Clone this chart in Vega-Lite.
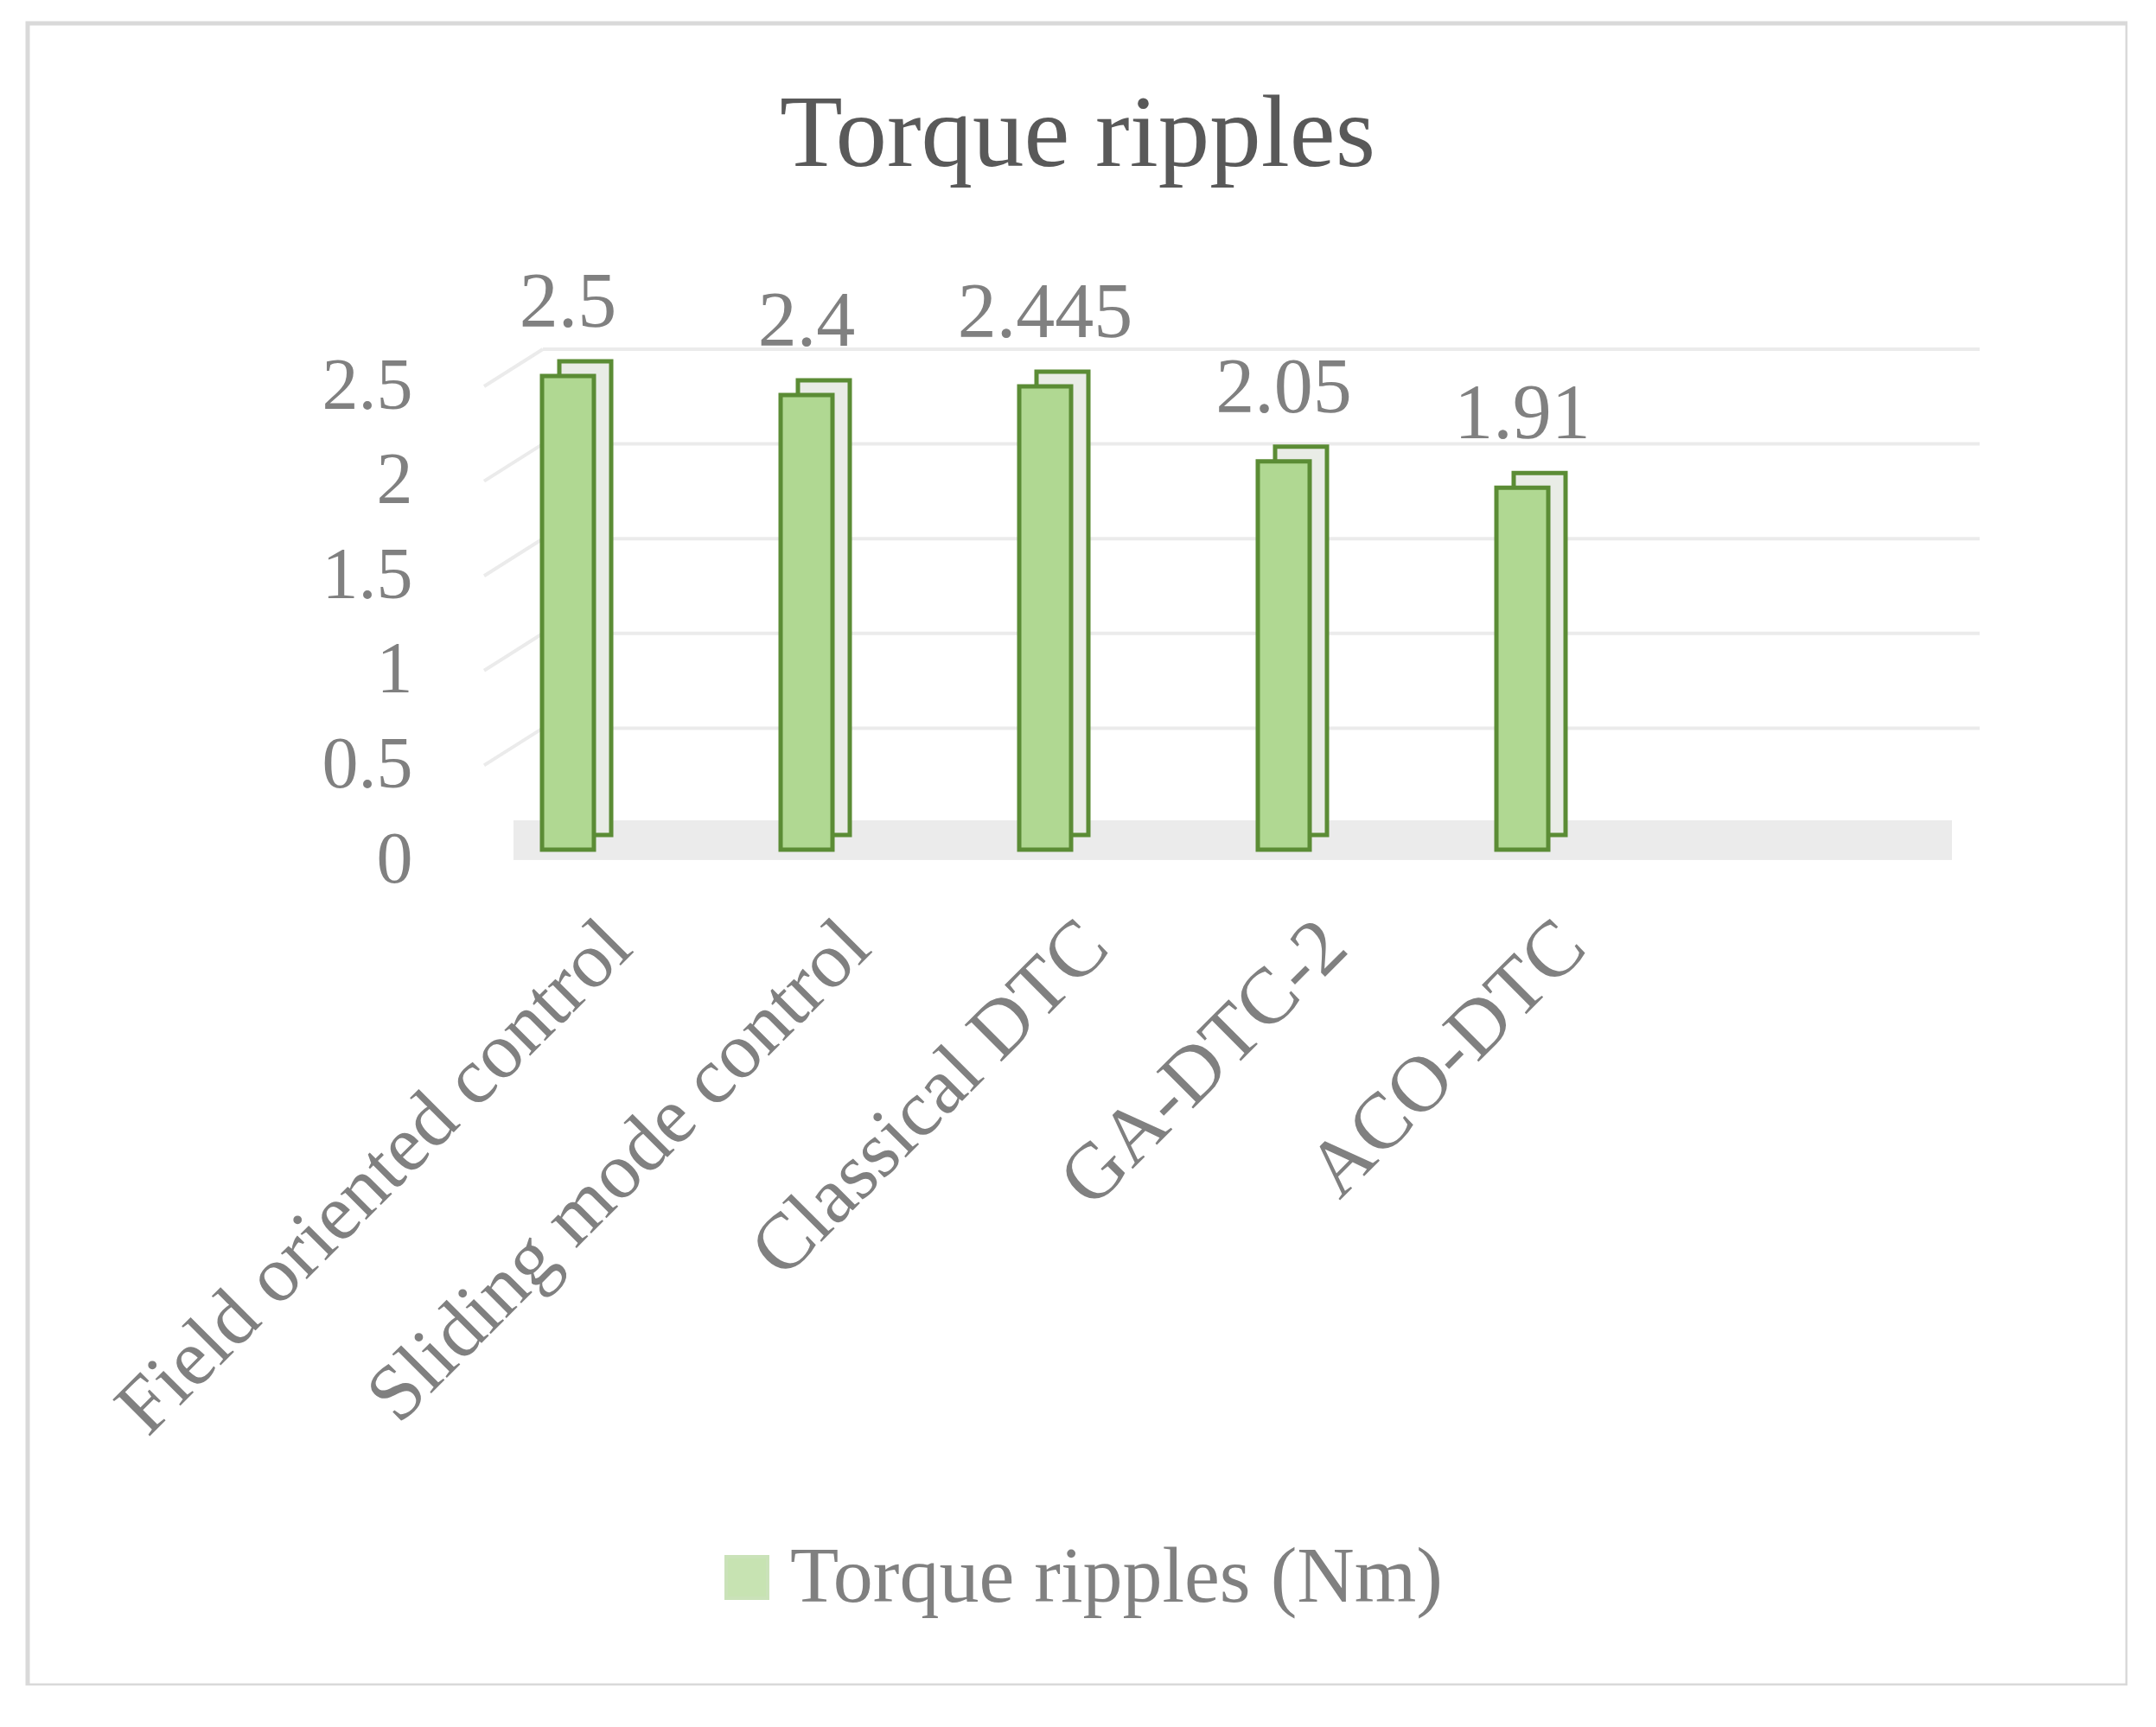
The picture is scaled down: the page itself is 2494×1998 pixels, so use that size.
{
  "$schema": "https://vega.github.io/schema/vega-lite/v6.json",
  "width": 2429,
  "height": 1923,
  "autosize": {"type": "none"},
  "padding": {"left": 32, "top": 27, "right": 0, "bottom": 0},
  "background": "white",
  "config": {"view": {"stroke": "#d9d9d9", "strokeWidth": 5}, "font": "Liberation Serif"},
  "title": {"text": "Torque ripples", "fontSize": 119, "font": "Liberation Serif", "fontWeight": "normal", "color": "#595959", "anchor": "middle", "frame": "group", "baseline": "alphabetic", "offset": -167, "dy": 117},
  "data": {"values": [
    {"method": "Field oriented control", "ripple": 2.5, "series": "Torque ripples (Nm)"},
    {"method": "Sliding mode control", "ripple": 2.4, "series": "Torque ripples (Nm)"},
    {"method": "Classical DTC", "ripple": 2.445, "series": "Torque ripples (Nm)"},
    {"method": "GA-DTC-2", "ripple": 2.05, "series": "Torque ripples (Nm)"},
    {"method": "ACO-DTC", "ripple": 1.91, "series": "Torque ripples (Nm)"}
  ]},
  "layer": [
    {
      "mark": {"type": "rule", "stroke": "#ebebeb", "strokeWidth": 45, "strokeCap": "butt", "xOffset": 75, "x2Offset": 83, "yOffset": -11},
      "encoding": {
        "x": {"datum": "Field oriented control", "type": "nominal", "bandPosition": 0, "scale": {"type": "band", "domain": ["Field oriented control", "Sliding mode control", "Classical DTC", "GA-DTC-2", "ACO-DTC", " "], "range": [487, 2143], "paddingInner": 0, "paddingOuter": 0}, "axis": {"orient": "bottom", "offset": -910, "labelAngle": -45, "labelAlign": "right", "labelBaseline": "top", "labelFontSize": 92, "labelColor": "#808080", "labelFont": "Liberation Serif", "ticks": false, "domain": false, "grid": false, "title": null, "labelPadding": 8, "labelOffset": 26, "labelLimit": 2000}},
        "x2": {"datum": " ", "bandPosition": 1},
        "y": {"datum": 0, "type": "quantitative", "scale": {"domain": [0, 2.5], "range": [956, 408], "nice": false, "zero": true}, "axis": {"orient": "left", "offset": -445, "values": [0, 0.5, 1, 1.5, 2, 2.5], "format": "~g", "labelFontSize": 84, "labelColor": "#808080", "labelFont": "Liberation Serif", "ticks": false, "domain": false, "grid": false, "title": null, "labelPadding": 0, "labelOffset": 12}}
      }
    },
    {
      "data": {"values": [{"v": 0.5}, {"v": 1}, {"v": 1.5}, {"v": 2}, {"v": 2.5}]},
      "mark": {"type": "rule", "stroke": "#ebebeb", "strokeWidth": 4, "xOffset": 109, "x2Offset": 115, "yOffset": -31},
      "encoding": {
        "x": {"datum": "Field oriented control", "type": "nominal", "bandPosition": 0},
        "x2": {"datum": " ", "bandPosition": 1},
        "y": {"field": "v", "type": "quantitative"}
      }
    },
    {
      "data": {"values": [{"v": 0.5}, {"v": 1}, {"v": 1.5}, {"v": 2}, {"v": 2.5}]},
      "mark": {"type": "rule", "stroke": "#ebebeb", "strokeWidth": 4, "xOffset": 41, "x2Offset": 109, "yOffset": 12, "y2Offset": -31},
      "encoding": {
        "x": {"datum": "Field oriented control", "type": "nominal", "bandPosition": 0},
        "x2": {"datum": "Field oriented control", "bandPosition": 0},
        "y": {"field": "v", "type": "quantitative"},
        "y2": {"field": "v"}
      }
    },
    {
      "mark": {"type": "bar", "width": 60, "fill": "#e9ece6", "stroke": "#5b8c35", "strokeWidth": 5, "xOffset": 20, "yOffset": -17, "y2Offset": -17},
      "encoding": {
        "x": {"field": "method", "type": "nominal", "sort": null},
        "y": {"field": "ripple", "type": "quantitative"}
      }
    },
    {
      "mark": {"type": "bar", "width": 60, "stroke": "#5b8c35", "strokeWidth": 5},
      "encoding": {
        "x": {"field": "method", "type": "nominal", "sort": null},
        "y": {"field": "ripple", "type": "quantitative"},
        "fill": {"field": "series", "type": "nominal", "scale": {"range": ["#b0d892"]}, "legend": {"orient": "none", "legendX": 786, "legendY": 1752, "title": null, "labelFontSize": 92, "labelColor": "#808080", "labelFont": "Liberation Serif", "labelLimit": 2000, "symbolType": "square", "symbolSize": 2304, "symbolStrokeColor": "#b5d69c", "symbolStrokeWidth": 4, "symbolOpacity": 0.7, "labelOffset": 4}}
      }
    },
    {
      "mark": {"type": "text", "fontSize": 90, "color": "#808080", "baseline": "alphabetic", "dy": -57, "font": "Liberation Serif"},
      "encoding": {
        "x": {"field": "method", "type": "nominal", "sort": null},
        "y": {"field": "ripple", "type": "quantitative"},
        "text": {"field": "ripple", "type": "quantitative", "format": "~g"}
      }
    }
  ]
}
